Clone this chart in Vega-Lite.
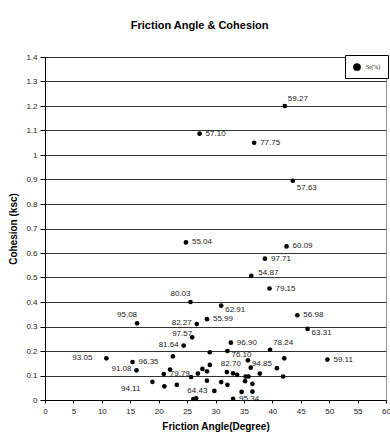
{
  "$schema": "https://vega.github.io/schema/vega-lite/v6.json",
  "width": 341,
  "height": 343,
  "autosize": {"type": "none"},
  "padding": {"left": 45, "top": 57, "right": 4, "bottom": 39},
  "background": "white",
  "title": {
    "text": "Friction Angle & Cohesion",
    "font": "Liberation Sans",
    "fontSize": 11,
    "fontWeight": "bold",
    "color": "black",
    "anchor": "middle",
    "frame": "bounds",
    "offset": 22
  },
  "config": {
    "font": "Liberation Sans",
    "view": {"stroke": "#999", "strokeWidth": 1},
    "axis": {
      "domainColor": "black",
      "tickColor": "black",
      "labelColor": "#222",
      "labelFont": "Liberation Sans",
      "labelFontSize": 8,
      "titleFont": "Liberation Sans",
      "titleFontSize": 10,
      "titleFontWeight": "bold",
      "titleColor": "black"
    }
  },
  "data": {
    "values": [
      {"angle": 42.2, "cohesion": 1.2, "sr": "59.27"},
      {"angle": 27.2, "cohesion": 1.087, "sr": "57.10"},
      {"angle": 36.8, "cohesion": 1.05, "sr": "77.75"},
      {"angle": 43.6, "cohesion": 0.895, "sr": "57.63"},
      {"angle": 24.8, "cohesion": 0.643, "sr": "55.04"},
      {"angle": 42.5, "cohesion": 0.627, "sr": "60.09"},
      {"angle": 38.7, "cohesion": 0.577, "sr": "97.71"},
      {"angle": 36.3, "cohesion": 0.507, "sr": "54.87"},
      {"angle": 39.5, "cohesion": 0.455, "sr": "79.15"},
      {"angle": 25.6, "cohesion": 0.4, "sr": "80.03"},
      {"angle": 31.0, "cohesion": 0.385, "sr": "62.91"},
      {"angle": 44.4, "cohesion": 0.346, "sr": "56.98"},
      {"angle": 28.5, "cohesion": 0.33, "sr": "55.99"},
      {"angle": 16.2, "cohesion": 0.313, "sr": "95.08"},
      {"angle": 26.7, "cohesion": 0.31, "sr": "82.27"},
      {"angle": 46.2, "cohesion": 0.29, "sr": "63.31"},
      {"angle": 25.9, "cohesion": 0.256, "sr": "97.57"},
      {"angle": 32.7, "cohesion": 0.234, "sr": "96.90"},
      {"angle": 24.4, "cohesion": 0.222, "sr": "81.64"},
      {"angle": 39.6, "cohesion": 0.205, "sr": "78.24"},
      {"angle": 32.1, "cohesion": 0.2, "sr": "76.10"},
      {"angle": 10.8, "cohesion": 0.17, "sr": "93.05"},
      {"angle": 49.7, "cohesion": 0.165, "sr": "59.11"},
      {"angle": 35.7, "cohesion": 0.162, "sr": "94.85"},
      {"angle": 15.4, "cohesion": 0.155, "sr": "96.35"},
      {"angle": 16.1, "cohesion": 0.121, "sr": "91.08"},
      {"angle": 32.0, "cohesion": 0.114, "sr": "82.70"},
      {"angle": 20.9, "cohesion": 0.106, "sr": "79.79"},
      {"angle": 18.9, "cohesion": 0.074, "sr": "94.11"},
      {"angle": 26.1, "cohesion": 0.004, "sr": "64.43"},
      {"angle": 33.1, "cohesion": 0.005, "sr": "95.34"},
      {"angle": 22.5, "cohesion": 0.178, "sr": ""},
      {"angle": 22.0, "cohesion": 0.124, "sr": ""},
      {"angle": 25.7, "cohesion": 0.094, "sr": ""},
      {"angle": 26.9, "cohesion": 0.108, "sr": ""},
      {"angle": 27.7, "cohesion": 0.127, "sr": ""},
      {"angle": 28.5, "cohesion": 0.117, "sr": ""},
      {"angle": 29.0, "cohesion": 0.143, "sr": ""},
      {"angle": 29.0, "cohesion": 0.195, "sr": ""},
      {"angle": 28.5, "cohesion": 0.079, "sr": ""},
      {"angle": 21.0, "cohesion": 0.056, "sr": ""},
      {"angle": 23.2, "cohesion": 0.062, "sr": ""},
      {"angle": 26.6, "cohesion": 0.007, "sr": ""},
      {"angle": 29.8, "cohesion": 0.037, "sr": ""},
      {"angle": 31.0, "cohesion": 0.073, "sr": ""},
      {"angle": 33.1, "cohesion": 0.109, "sr": ""},
      {"angle": 33.8, "cohesion": 0.103, "sr": ""},
      {"angle": 32.1, "cohesion": 0.062, "sr": ""},
      {"angle": 34.6, "cohesion": 0.033, "sr": ""},
      {"angle": 35.3, "cohesion": 0.096, "sr": ""},
      {"angle": 35.8, "cohesion": 0.096, "sr": ""},
      {"angle": 35.2, "cohesion": 0.077, "sr": ""},
      {"angle": 36.5, "cohesion": 0.066, "sr": ""},
      {"angle": 36.5, "cohesion": 0.034, "sr": ""},
      {"angle": 36.2, "cohesion": 0.132, "sr": ""},
      {"angle": 37.8, "cohesion": 0.108, "sr": ""},
      {"angle": 40.8, "cohesion": 0.13, "sr": ""},
      {"angle": 41.9, "cohesion": 0.096, "sr": ""},
      {"angle": 42.1, "cohesion": 0.17, "sr": ""}
    ]
  },
  "encoding": {
    "x": {
      "field": "angle",
      "type": "quantitative",
      "scale": {"domain": [0, 60], "nice": false},
      "axis": {
        "title": "Friction Angle(Degree)",
        "values": [0, 5, 10, 15, 20, 25, 30, 35, 40, 45, 50, 55, 60],
        "grid": false,
        "tickSize": 3,
        "labelPadding": 4,
        "titlePadding": 6,
        "labelFlush": false
      }
    },
    "y": {
      "field": "cohesion",
      "type": "quantitative",
      "scale": {"domain": [0, 1.4], "nice": false},
      "axis": {
        "title": "Cohesion (ksc)",
        "values": [0, 0.1, 0.2, 0.3, 0.4, 0.5, 0.6, 0.7, 0.8, 0.9, 1, 1.1, 1.2, 1.3, 1.4],
        "format": ".1~f",
        "grid": true,
        "gridColor": "#333",
        "gridWidth": 1,
        "tickSize": 5,
        "labelPadding": 3,
        "titlePadding": 7,
        "labelFlush": false
      }
    }
  },
  "layer": [
    {
      "mark": {"type": "circle", "size": 22, "opacity": 1},
      "encoding": {
        "color": {
          "datum": "Sr(%)",
          "type": "nominal",
          "scale": {"range": ["black"]},
          "legend": {
            "title": null,
            "orient": "top-right",
            "offset": -2,
            "padding": 7,
            "strokeColor": "black",
            "fillColor": "white",
            "labelFont": "Liberation Serif",
            "labelFontSize": 6,
            "labelColor": "#222",
            "symbolSize": 60,
            "symbolType": "circle"
          }
        }
      }
    },
    {
      "transform": [{"filter": "indexof(['57.10','55.04','60.09','97.71','79.15','55.99','56.98','96.35','96.90','59.11','77.75','95.34','79.79'], datum.sr) >= 0"}],
      "mark": {"type": "text", "align": "left", "baseline": "middle", "dx": 6, "dy": 0, "fontSize": 8, "color": "#222"},
      "encoding": {"text": {"field": "sr"}}
    },
    {
      "transform": [{"filter": "indexof(['94.85','76.10','62.91','63.31'], datum.sr) >= 0"}],
      "mark": {"type": "text", "align": "left", "baseline": "middle", "dx": 4, "dy": 4, "fontSize": 8, "color": "#222"},
      "encoding": {"text": {"field": "sr"}}
    },
    {
      "transform": [{"filter": "datum.sr == '57.63'"}],
      "mark": {"type": "text", "align": "left", "baseline": "middle", "dx": 4, "dy": 7, "fontSize": 8, "color": "#222"},
      "encoding": {"text": {"field": "sr"}}
    },
    {
      "transform": [{"filter": "indexof(['59.27','78.24'], datum.sr) >= 0"}],
      "mark": {"type": "text", "align": "left", "baseline": "middle", "dx": 3, "dy": -7, "fontSize": 8, "color": "#222"},
      "encoding": {"text": {"field": "sr"}}
    },
    {
      "transform": [{"filter": "datum.sr == '54.87'"}],
      "mark": {"type": "text", "align": "left", "baseline": "middle", "dx": 7, "dy": -3, "fontSize": 8, "color": "#222"},
      "encoding": {"text": {"field": "sr"}}
    },
    {
      "transform": [{"filter": "indexof(['82.27','91.08','81.64'], datum.sr) >= 0"}],
      "mark": {"type": "text", "align": "right", "baseline": "middle", "dx": -5, "dy": -1, "fontSize": 8, "color": "#222"},
      "encoding": {"text": {"field": "sr"}}
    },
    {
      "transform": [{"filter": "datum.sr == '93.05'"}],
      "mark": {"type": "text", "align": "right", "baseline": "middle", "dx": -14, "dy": 0, "fontSize": 8, "color": "#222"},
      "encoding": {"text": {"field": "sr"}}
    },
    {
      "transform": [{"filter": "indexof(['80.03','95.08'], datum.sr) >= 0"}],
      "mark": {"type": "text", "align": "right", "baseline": "middle", "dx": 0, "dy": -8, "fontSize": 8, "color": "#222"},
      "encoding": {"text": {"field": "sr"}}
    },
    {
      "transform": [{"filter": "datum.sr == '97.57'"}],
      "mark": {"type": "text", "align": "right", "baseline": "middle", "dx": 0, "dy": -3, "fontSize": 8, "color": "#222"},
      "encoding": {"text": {"field": "sr"}}
    },
    {
      "transform": [{"filter": "datum.sr == '94.11'"}],
      "mark": {"type": "text", "align": "right", "baseline": "middle", "dx": -12, "dy": 7, "fontSize": 8, "color": "#222"},
      "encoding": {"text": {"field": "sr"}}
    },
    {
      "transform": [{"filter": "indexof(['64.43','82.70'], datum.sr) >= 0"}],
      "mark": {"type": "text", "align": "center", "baseline": "middle", "dx": 4, "dy": -8, "fontSize": 8, "color": "#222"},
      "encoding": {"text": {"field": "sr"}}
    }
  ]
}
